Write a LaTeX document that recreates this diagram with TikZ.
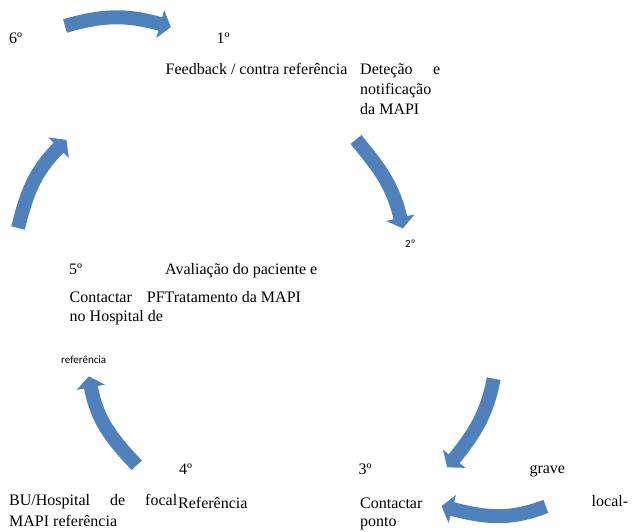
\documentclass[tikz,border=0pt]{standalone}
\usepackage{fontspec}
\setmainfont{Liberation Serif}
\newfontfamily\smallsans{Carlito}
\usetikzlibrary{calc}
\definecolor{arrowblue}{HTML}{4F81BD}
\begin{document}
\begin{tikzpicture}[x=1pt,y=1pt,
  band/.style={draw=arrowblue,line width=14pt},
  lbl/.style={anchor=base west,inner sep=0pt,font=\fontsize{16}{20}\selectfont},
  small/.style={anchor=base west,inner sep=0pt,font=\smallsans\fontsize{11}{13}\selectfont},
  pics/headtri/.style={code={\fill[arrowblue] (-0.6,-14.5) -- (10.5,0) -- (-0.6,14.5) -- cycle;}}
]
\useasboundingbox (0,0) rectangle (633,532);

% arrows
\coordinate (a1s) at (65,506);    \coordinate (a1b) at (160.8,507.8);
\coordinate (a2s) at (356,392.5); \coordinate (a2b) at (400.5,313.7);
\coordinate (a3s) at (493.7,153.3); \coordinate (a3b) at (453.8,72.8);
\coordinate (a4s) at (545.8,25.7); \coordinate (a4b) at (451.7,23.2);
\coordinate (a5s) at (136.7,66.7); \coordinate (a5b) at (90.8,145.3);
\coordinate (a6s) at (18,304);    \coordinate (a6b) at (59,384.7);

\draw[band] (a1s) to[out=16,in=164] (a1b);
\pic[rotate=-16] at (a1b) {headtri};
\draw[band] (a2s) to[out=-51,in=103] (a2b);
\pic[rotate=-77] at (a2b) {headtri};
\draw[band] (a3s) to[out=-101,in=51] (a3b);
\pic[rotate=-129] at (a3b) {headtri};
\draw[band] (a4s) to[out=201.5,in=-15] (a4b);
\pic[rotate=165] at (a4b) {headtri};
\draw[band] (a5s) to[out=133,in=-79.4] (a5b);
\pic[rotate=100.6] at (a5b) {headtri};
\draw[band] (a6s) to[out=76,in=225] (a6b);
\pic[rotate=45] at (a6b) {headtri};

% texts
\node[lbl] (n6) at (9,488.7) {6º};
\node[lbl] (n1) at (216.5,488.7) {1º};
\node[lbl] (fb) at (165.5,457) {Feedback / contra referência};
\node[lbl] (det1) at (360,457) {\makebox[80pt][l]{Deteção\hfill e}};
\node[lbl] (det2) at (360,437) {notificação};
\node[lbl] (det3) at (360,417) {da MAPI};
\node[small] (n2) at (405,284.7) {2º};
\node[lbl] (n5) at (69,257) {5º};
\node[lbl] (av1) at (165,257) {Avaliação do paciente e};
\node[lbl] (ct1) at (69.5,229) {\makebox[95pt][l]{Contactar\hfill PF}};
\node[lbl] (av2) at (164.5,229) {Tratamento da MAPI};
\node[lbl] (ct2) at (69.5,210.5) {no Hospital de};
\node[small] (ref) at (61,168.7) {referência};
\node[lbl] (n4) at (179,57) {4º};
\node[lbl] (bu1) at (9,26.3) {\makebox[168pt][l]{BU/Hospital\hfill de\hfill focal}};
\node[lbl] (refR) at (178,23.7) {Referência};
\node[lbl] (bu2) at (9,5.3) {MAPI referência};
\node[lbl] (n3) at (358.3,57) {3º};
\node[lbl] (gr) at (529.3,58.7) {grave};
\node[lbl] (c3) at (360,23.7) {Contactar};
\node[lbl] (pt) at (360,5.3) {ponto};
\node[lbl] (lc) at (591.5,25.3) {local-};
\end{tikzpicture}
\end{document}
